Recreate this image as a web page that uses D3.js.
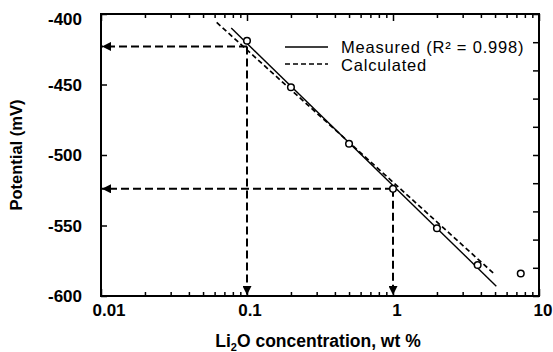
<!DOCTYPE html>
<html>
<head>
<meta charset="utf-8">
<script src="https://cdn.jsdelivr.net/npm/d3@7"></script>
<style>
  body { margin: 0; background: #fff; }
  text { font-family: Arial, "Liberation Sans", sans-serif; fill: #000; }
</style>
</head>
<body>
<script>
// measured points
var concentration = [0.1, 0.2, 0.5, 1, 2, 3.8, 7.5];
var potential = [-419, -452, -492, -524, -552, -578, -584];
// fitted (measured) line ends
var measuredX = [0.078, 5.1];
var measuredY = [-410, -593];
// calculated line ends
var calculatedX = [0.062, 4.9];
var calculatedY = [-406, -584];
// reading guides (dashed arrows)
var guideX = [0.1, 1];
var guideY = [-423, -524];
// axis ticks
var xTicks = [0.01, 0.1, 1, 10];
var xTickLabels = ["0.01", "0.1", "1", "10"];
var yTicks = [-400, -450, -500, -550, -600];

var W = 553, H = 352;
var margin = {top: 14, right: 14, bottom: 56, left: 101},
    width = W - margin.left - margin.right,
    height = H - margin.top - margin.bottom;

var x = d3.scaleLog().domain([0.01, 10]).range([0, width]);
var y = d3.scaleLinear().domain([-600, -400]).range([height, 0]);

var svg = d3.select("body").append("svg")
    .attr("width", W).attr("height", H);

var defs = svg.append("defs");
defs.append("marker")
    .attr("id", "arrow")
    .attr("viewBox", "0 0 10 10")
    .attr("refX", 10).attr("refY", 5)
    .attr("markerUnits", "userSpaceOnUse")
    .attr("markerWidth", 9).attr("markerHeight", 9)
    .attr("orient", "auto")
    .append("path").attr("d", "M0,0 L10,5 L0,10 Z").attr("fill", "#000");

var g = svg.append("g")
    .attr("transform", "translate(" + margin.left + "," + margin.top + ")");

// minor log ticks
var minor = [];
[0.01, 0.1, 1].forEach(function(d) {
  for (var k = 2; k <= 9; k++) minor.push(d * k);
});

// axes (ticks inward)
g.append("g").attr("transform", "translate(0," + height + ")")
  .call(d3.axisBottom(x).tickValues(minor).tickSize(-4).tickFormat(""));
g.append("g").attr("transform", "translate(0," + height + ")")
  .call(d3.axisBottom(x).tickValues(xTicks).tickSize(-7).tickFormat(""));
g.append("g")
  .call(d3.axisTop(x).tickValues(minor).tickSize(-4).tickFormat(""));
g.append("g")
  .call(d3.axisTop(x).tickValues(xTicks).tickSize(-7).tickFormat(""));
g.append("g")
  .call(d3.axisLeft(y).tickValues(yTicks).tickSize(-6).tickFormat(""));
g.append("g").attr("transform", "translate(" + width + ",0)")
  .call(d3.axisRight(y).ticks(8).tickSize(-6).tickFormat(""));

g.selectAll(".domain").remove();
g.selectAll(".tick line").attr("stroke", "#000").attr("stroke-width", 1.5);

// frame
g.append("rect")
  .attr("width", width).attr("height", height)
  .attr("fill", "none").attr("stroke", "#000").attr("stroke-width", 2);

// tick labels
g.selectAll(".xlab").data(xTicks).enter().append("text")
  .attr("x", function(d, i) { return x(d) + (i === 0 ? 8 : (i === 1 ? 3 : 4)); })
  .attr("y", height + 20)
  .attr("text-anchor", "middle")
  .attr("font-size", 17).attr("font-weight", "bold")
  .text(function(d, i) { return xTickLabels[i]; });

g.selectAll(".ylab").data(yTicks).enter().append("text")
  .attr("x", -19)
  .attr("y", function(d) { return y(d) + (d === -400 ? 11 : 6); })
  .attr("text-anchor", "end")
  .attr("font-size", 17).attr("font-weight", "bold")
  .text(function(d) { return d; });

// axis titles
var xt = svg.append("text")
  .attr("x", margin.left + width / 2 - 2)
  .attr("y", H - 5)
  .attr("text-anchor", "middle")
  .attr("font-size", 17.5).attr("font-weight", "bold");
xt.append("tspan").text("Li");
xt.append("tspan").attr("font-size", 11).attr("dy", 4).text("2");
xt.append("tspan").attr("dy", -4).text("O concentration, wt %");

svg.append("text")
  .attr("transform", "translate(22," + (margin.top + height / 2) + ") rotate(-90)")
  .attr("text-anchor", "middle")
  .attr("font-size", 16.5).attr("font-weight", "bold")
  .text("Potential  (mV)");

// dashed reading guides
guideX.forEach(function(cx, i) {
  g.append("line")
    .attr("x1", x(cx)).attr("y1", y(guideY[i]))
    .attr("x2", 1).attr("y2", y(guideY[i]))
    .attr("stroke", "#000").attr("stroke-width", 2)
    .attr("stroke-dasharray", "8,4")
    .attr("marker-end", "url(#arrow)");
  g.append("line")
    .attr("x1", x(cx)).attr("y1", y(guideY[i]))
    .attr("x2", x(cx)).attr("y2", height - 1)
    .attr("stroke", "#000").attr("stroke-width", 2)
    .attr("stroke-dasharray", "8,4")
    .attr("marker-end", "url(#arrow)");
});

// lines
var line = d3.line().x(function(d) { return x(d[0]); }).y(function(d) { return y(d[1]); });
g.append("path")
  .datum(d3.zip(measuredX, measuredY))
  .attr("d", line).attr("fill", "none")
  .attr("stroke", "#000").attr("stroke-width", 1.4);
g.append("path")
  .datum(d3.zip(calculatedX, calculatedY))
  .attr("d", line).attr("fill", "none")
  .attr("stroke", "#000").attr("stroke-width", 1.7)
  .attr("stroke-dasharray", "5,3");

// points
g.selectAll(".pt").data(d3.zip(concentration, potential)).enter().append("circle")
  .attr("cx", function(d) { return x(d[0]); })
  .attr("cy", function(d) { return y(d[1]); })
  .attr("r", 3.3)
  .attr("fill", "#fff").attr("stroke", "#000").attr("stroke-width", 1.5);

// legend
var lg = svg.append("g").attr("transform", "translate(285,47)");
lg.append("line").attr("x1", 0).attr("x2", 43).attr("y1", 0).attr("y2", 0)
  .attr("stroke", "#000").attr("stroke-width", 1.4);
lg.append("line").attr("x1", 0).attr("x2", 43).attr("y1", 17).attr("y2", 17)
  .attr("stroke", "#000").attr("stroke-width", 1.7).attr("stroke-dasharray", "5,3");
lg.append("text").attr("x", 56).attr("y", 5.5).attr("font-size", 16.5)
  .attr("letter-spacing", 0.8)
  .text("Measured (R\u00B2 = 0.998)");
lg.append("text").attr("x", 56).attr("y", 24).attr("font-size", 16.5)
  .attr("letter-spacing", 0.8)
  .text("Calculated");
</script>
</body>
</html>
